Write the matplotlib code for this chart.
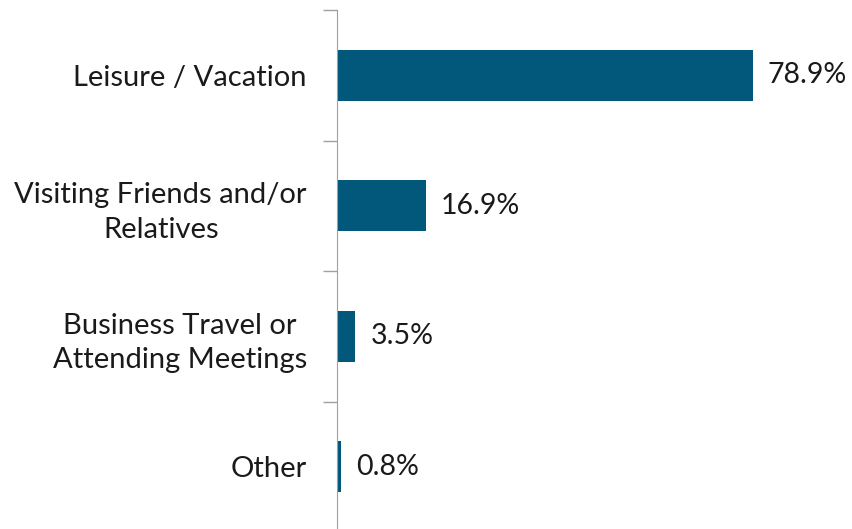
import matplotlib.pyplot as plt
import numpy as np
from matplotlib.transforms import ScaledTranslation

categories = ['Leisure / Vacation', 'Visiting Friends and/or\nRelatives',
              'Business Travel or\nAttending Meetings', 'Other']
values = [78.9, 16.9, 3.5, 0.8]

plt.rcParams['font.family'] = ['Lato', 'DejaVu Sans']

fig = plt.figure(figsize=(8.53, 5.29), dpi=100)
# axes from x=337px to the right edge, y from 10px down past the bottom
ax = fig.add_axes([337 / 853, -3 / 529, 1 - 337 / 853, 522 / 529])

y = np.arange(len(categories))
ax.barh(y, values, height=0.39, color='#02587b')
ax.set_ylim(len(categories) - 0.5, -0.5)
ax.set_xlim(0, (853 - 337) / 5.27)

for yi, v in zip(y, values):
    ax.annotate(f'{v}%', (v, yi), xytext=(15, 0), textcoords='offset pixels',
                va='center', ha='left', fontsize=20.5, color='#1a1a1a')

ax.set_yticks(y)
ax.set_yticklabels(categories, fontsize=21, color='#1a1a1a', ha='center',
                   multialignment='center', linespacing=1.4)
ax.tick_params(axis='y', which='major', length=0, pad=0)
ax.set_yticks(np.arange(-0.5, len(categories), 1), minor=True)
ax.tick_params(axis='y', which='minor', length=10, color='#a0a0a0', width=1)
ax.set_xticks([])

# center-aligned labels, right edges at about 307px
fig.canvas.draw()
for lbl in ax.get_yticklabels():
    w = lbl.get_window_extent().width
    shift = -(30 + w / 2) / 100
    lbl.set_transform(lbl.get_transform() + ScaledTranslation(shift, 0, fig.dpi_scale_trans))

for s in ['top', 'right', 'bottom']:
    ax.spines[s].set_visible(False)
ax.spines['left'].set_color('#a0a0a0')

fig.savefig('out.png', dpi=100)
